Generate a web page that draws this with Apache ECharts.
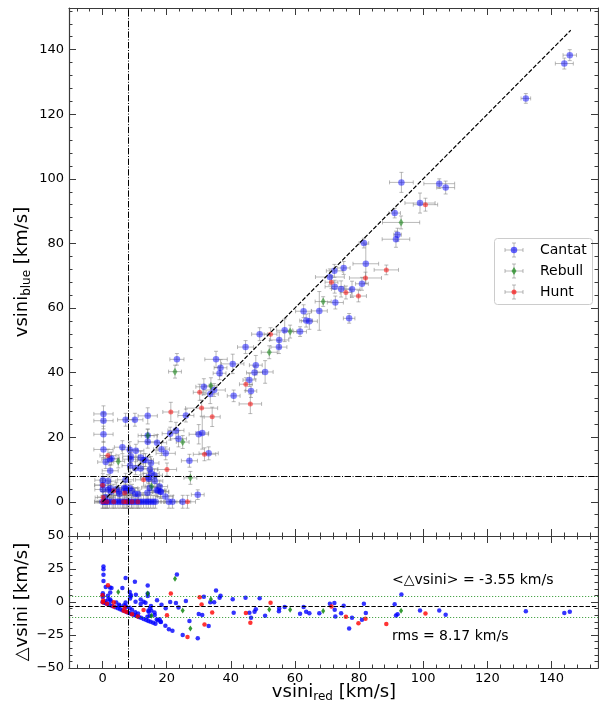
<!DOCTYPE html>
<html>
<head>
<meta charset="utf-8">
<script src="https://cdn.jsdelivr.net/npm/echarts@6.0.0/dist/echarts.min.js"></script>
<style>
html,body{margin:0;padding:0;background:#fff;}
#chart{width:599px;height:708px;}
</style>
</head>
<body>
<div id="chart"></div>
<script>
// ---- data rows: [vsini_red, vsini_blue, err_red, err_blue] (km/s) ----
const cantat = [
  [145.7,138.3,2.1,1.7],[144.0,135.7,2.8,1.7],[132.0,124.9,1.5,1.5],
  [93.2,98.9,3.7,3.1],[105.0,98.5,4.8,1.5],[107.0,97.3,2.8,2.0],[99.0,92.5,4.7,3.1],
  [91.1,89.4,1.8,1.5],[92.0,82.7,1.2,2.0],[91.5,81.3,4.3,2.5],[81.5,80.1,1.5,1.5],
  [82.1,73.7,4.0,6.0],[75.2,72.4,2.0,2.0],[72.3,71.5,2.5,2.0],[70.9,69.6,4.5,2.5],
  [72.4,66.6,3.0,2.0],[74.4,65.9,3.0,2.5],[77.8,65.8,2.5,2.5],[80.9,67.5,2.0,2.0],
  [72.6,61.7,2.5,2.0],[62.7,59.0,2.5,2.0],[67.6,59.1,2.5,6.0],[76.9,56.8,1.8,1.5],
  [63.5,56.1,2.0,2.0],[64.5,55.9,2.5,2.5],[61.6,52.7,2.0,1.5],[49.0,51.9,2.5,2.0],
  [56.8,53.1,2.5,3.5],[55.1,50.1,3.0,2.5],[55.0,47.9,2.5,2.0],[44.6,47.9,2.5,2.0],
  [35.4,44.1,3.5,2.5],[23.2,44.1,2.2,1.8],[40.6,42.7,3.5,3.0],[36.8,41.5,2.0,2.5],
  [36.5,39.8,2.0,2.0],[47.8,42.3,2.0,3.0],[47.4,40.0,2.5,2.0],[50.7,40.2,2.5,3.5],
  [45.8,37.7,2.0,2.0],[46.3,34.3,1.8,2.0],[31.6,35.6,2.5,2.5],[34.8,34.6,3.5,2.0],
  [33.6,33.4,2.5,3.0],[40.9,32.8,2.0,1.8],[14.1,26.6,3.0,2.5],[26.0,26.7,2.5,2.0],
  [21.1,21.1,2.5,2.0],[22.9,22.1,2.5,2.5],[23.7,19.5,2.5,2.5],[30.0,20.9,3.0,3.0],
  [31.1,21.3,2.0,5.0],[14.1,20.5,3.0,2.0],[14.1,18.6,3.0,2.0],[17.0,18.3,3.0,2.5],
  [18.4,16.3,2.5,2.0],[19.7,15.0,3.0,2.0],[33.1,15.0,3.0,2.0],[27.1,12.7,2.5,2.0],
  [11.9,13.7,3.0,2.0],[14.8,10.1,2.5,2.0],[15.2,8.8,2.5,2.0],[14.3,7.6,2.5,2.0],
  [0.3,27.2,3.0,2.5],[0.3,25.1,3.0,2.5],[0.3,20.9,3.0,2.5],[0.3,16.2,3.0,2.5],
  [7.2,25.4,2.5,2.0],[10.1,25.4,2.5,2.0],[6.2,16.9,2.5,2.0],[2.3,13.2,2.5,2.0],
  [2.8,13.4,2.5,2.0],[1.0,12.3,2.5,2.0],[2.4,9.6,2.5,2.0],[8.5,16.1,2.5,2.5],
  [8.8,14.1,2.5,2.0],[8.8,13.2,2.5,2.0],[8.6,11.2,2.5,2.0],[10.4,15.8,2.5,2.0],
  [13.4,12.9,2.5,2.0],[12.8,12.9,2.5,2.0],[10.3,10.4,2.5,2.0],[11.9,10.3,2.5,2.0],
  [15.1,12.0,2.5,2.0],[16.2,8.2,2.5,2.0],[14.4,7.1,2.5,2.0],[16.3,6.4,2.5,2.0],
  [17.8,4.7,2.5,2.0],[17.3,3.5,2.5,2.0],[18.2,3.1,2.5,2.0],[19.6,1.6,2.5,2.0],
  [29.7,2.2,2.0,1.5],[7.2,6.8,2.5,2.0],[0.1,6.7,2.5,2.0],[0.1,5.2,2.5,2.0],
  [0.1,3.8,2.5,2.0],[1.7,6.4,2.5,2.0],[1.8,3.8,2.5,2.0],[2.4,4.2,2.5,2.0],
  [2.6,3.1,2.5,2.0],[4.3,3.9,2.5,2.0],[5.2,3.1,2.5,2.0],[5.3,2.4,2.5,2.0],
  [6.7,4.3,2.5,2.0],[7.2,4.2,2.5,2.0],[7.4,3.4,2.5,2.0],[8.5,4.2,2.5,2.0],
  [9.2,3.4,2.5,2.0],[10.2,2.4,2.5,2.0],[11.1,2.3,2.5,2.0],[0.9,1.5,2.5,2.0],
  [14.0,2.8,2.5,2.0],[14.7,4.3,2.5,2.0],[16.9,3.6,2.5,2.0],[18.1,3.1,2.5,2.0],
  [0.0,0,2.5,2.0],[0.5,0,2.5,2.0],[1.0,0,2.5,2.0],[1.5,0,2.5,2.0],[2.2,0,2.5,2.0],
  [3.0,0,2.5,2.0],[4.0,0,2.5,2.0],[4.8,0,2.5,2.0],[5.5,0,2.5,2.0],[6.2,0,2.5,2.0],
  [7.0,0,2.5,2.0],[7.8,0,2.5,2.0],[8.3,0,2.5,2.0],[9.0,0,2.5,2.0],[9.8,0,2.5,2.0],
  [10.5,0,2.5,2.0],[11.3,0,2.5,2.0],[12.0,0,2.5,2.0],[12.8,0,2.5,2.0],[13.6,0,2.5,2.0],
  [14.3,0,2.5,2.0],[15.0,0,2.5,2.0],[15.8,0,2.5,2.0],[16.5,0,2.5,2.0],
  [20.7,0,2.5,2.0],[21.8,0,2.5,2.0],[25.0,0,2.5,2.0]
];
const rebull = [
  [93.1,86.5,5.8,2.0],[68.8,62.0,2.5,1.5],[58.5,52.7,2.0,2.0],[52.0,46.3,2.5,2.0],
  [22.6,40.3,2.0,2.0],[33.8,35.9,2.0,2.5],[25.0,18.5,2.0,2.0],[14.1,20.5,2.0,2.0],
  [4.9,12.5,2.0,2.0],[27.4,7.4,2.0,2.0],[15.3,4.8,2.0,2.0]
];
const hunt = [
  [100.7,92.0,3.8,2.0],[88.5,71.8,3.8,1.5],[82.0,69.3,5.0,1.8],[71.4,68.0,2.0,2.0],
  [75.9,64.8,1.8,2.0],[79.8,63.7,2.5,1.8],[52.4,51.9,2.0,2.0],[44.7,36.4,2.0,2.0],
  [30.3,33.9,2.0,2.5],[46.1,30.3,3.5,3.0],[30.9,29.0,5.0,2.5],[34.2,26.3,2.5,3.0],
  [21.3,27.8,2.5,3.0],[31.8,14.7,3.5,2.0],[20.1,10.0,3.0,2.0],[12.8,6.8,2.5,2.0],
  [1.7,14.3,2.5,2.0],[0.0,5.1,2.5,2.0],[0.2,1.3,2.5,2.0],[3.5,3.4,2.5,2.0],[6.9,2.7,2.5,2.0],
  [0.1,0,2.5,2.0],[1.4,0,2.5,2.0],[3.5,0,2.5,2.0],[6.6,0,2.5,2.0],[7.5,0,2.5,2.0],
  [9.2,0,2.5,2.0],[11.0,0,2.5,2.0],[26.5,0,2.5,2.0]
];

const xMajorTicks = [0,20,40,60,80,100,120,140];
const yTopMajorTicks = [0,20,40,60,80,100,120,140];
const yBottomMajorTicks = [-50,-25,0,25,50];

const vsiniLimit = 8;
const meanDiff = -3.55;
const rmsDiff = 8.17;
const oneToOneEnd = 146;

// ---- styling ----
const FONT = "'DejaVu Sans', sans-serif";
const SPINE = '#3a3a3a';
const ERR = 'rgba(128,128,128,0.55)';
const BLUE = 'rgba(0,0,255,0.6)';
const GREEN = 'rgba(0,128,0,0.65)';
const RED = 'rgba(255,0,0,0.65)';

function range(a, b, s) { const r = []; for (let v = a; v <= b + 1e-9; v += s) r.push(+v.toFixed(6)); return r; }
const xMinor = range(-8, 152, 4).filter(v => v % 20 !== 0);
const yTopMinor = range(-8, 152, 4).filter(v => v % 20 !== 0);
const yBotMinor = range(-45, 45, 5).filter(v => v % 25 !== 0);

const fmt = v => (v < 0 ? '\u2212' + Math.abs(v) : String(v));

function mkAxes(kind, grid, min, max, majors, minors, showLabels) {
  const sides = kind === 'x' ? ['bottom', 'top'] : ['left', 'right'];
  const out = [];
  sides.forEach((pos, i) => {
    [majors, minors].forEach((vals, j) => {
      out.push({
        type: 'value', gridIndex: grid, position: pos, min: min, max: max,
        axisLine: { show: j === 0, onZero: false, lineStyle: { color: SPINE, width: 1.2 } },
        axisTick: { show: true, inside: true, length: j === 0 ? 7 : 3.5, customValues: vals,
                    lineStyle: { color: SPINE, width: 1 } },
        axisLabel: { show: showLabels && i === 0 && j === 0, customValues: vals, formatter: fmt,
                     fontFamily: FONT, fontSize: 13, color: '#000', margin: kind === 'x' ? 4 : 5 },
        splitLine: { show: false },
        silent: true
      });
    });
  });
  return out;
}

const X_MIN = -10.45, X_MAX = 154.5;
const xAxes = [].concat(
  mkAxes('x', 0, X_MIN, X_MAX, xMajorTicks, xMinor, false),
  mkAxes('x', 1, X_MIN, X_MAX, xMajorTicks, xMinor, true)
);
const yAxes = [].concat(
  mkAxes('y', 0, -10.6, 152.9, yTopMajorTicks, yTopMinor, true),
  mkAxes('y', 1, -50, 50, yBottomMajorTicks, yBotMinor, true)
);

function errorBars(params, api) {
  const x = api.value(0), y = api.value(1), xe = api.value(2), ye = api.value(3);
  const l = api.coord([x - xe, y]), r = api.coord([x + xe, y]);
  const t = api.coord([x, y + ye]), b = api.coord([x, y - ye]);
  const c = 2;
  const st = { stroke: ERR, lineWidth: 1, fill: null };
  const ln = (x1, y1, x2, y2) => ({ type: 'line', shape: { x1, y1, x2, y2 }, style: st, silent: true });
  return { type: 'group', children: [
    ln(l[0], l[1], r[0], r[1]), ln(l[0], l[1] - c, l[0], l[1] + c), ln(r[0], r[1] - c, r[0], r[1] + c),
    ln(t[0], t[1], b[0], b[1]), ln(t[0] - c, t[1], t[0] + c, t[1]), ln(b[0] - c, b[1], b[0] + c, b[1])
  ]};
}

const sets = [
  { name: 'Cantat', data: cantat, color: BLUE, solid: '#0000ff', symbol: 'circle', size: 6.5, rsize: 4.5 },
  { name: 'Rebull', data: rebull, color: GREEN, solid: '#008000', symbol: 'diamond', size: [5, 8], rsize: [4, 6] },
  { name: 'Hunt', data: hunt, color: RED, solid: '#ff0000', symbol: 'circle', size: 5, rsize: 4.5 }
];

const series = [];
sets.forEach(s => {
  series.push({ type: 'custom', name: s.name + ' err', xAxisIndex: 0, yAxisIndex: 0,
    data: s.data, renderItem: errorBars, encode: { x: 0, y: 1 }, silent: true, z: 2 });
  series.push({ type: 'scatter', name: s.name, xAxisIndex: 0, yAxisIndex: 0,
    data: s.data.map(r => [r[0], r[1]]), symbol: s.symbol, symbolSize: s.size,
    itemStyle: { color: s.color, borderWidth: 0 }, silent: true, z: 2 });
});
sets.forEach(s => {
  series.push({ type: 'scatter', name: s.name + ' diff', xAxisIndex: 4, yAxisIndex: 4,
    data: s.data.map(r => [r[0], +(r[1] - r[0]).toFixed(2)]), symbol: s.symbol, symbolSize: s.rsize,
    itemStyle: { color: s.solid, borderWidth: 0 }, silent: true, z: 2 });
});

const DASHDOT = [6.4, 1.6, 1, 1.6];
series.push({
  type: 'line', name: '1:1', xAxisIndex: 0, yAxisIndex: 0,
  data: [[0, 0], [oneToOneEnd, oneToOneEnd]], showSymbol: false, silent: true, z: 3,
  lineStyle: { color: '#000', width: 1.2, type: [4.4, 1.9] },
  markLine: { silent: true, symbol: ['none', 'none'], label: { show: false }, animation: false,
    lineStyle: { color: '#000', width: 1, type: DASHDOT },
    emphasis: { disabled: true },
    data: [{ xAxis: vsiniLimit }, { yAxis: vsiniLimit }] }
});
series.push({
  type: 'line', name: 'refs', xAxisIndex: 4, yAxisIndex: 4, data: [], silent: true, z: 3,
  markLine: { silent: true, symbol: ['none', 'none'], label: { show: false }, animation: false,
    emphasis: { disabled: true },
    data: [
      { xAxis: vsiniLimit, lineStyle: { color: '#000', width: 1, type: DASHDOT } },
      { yAxis: meanDiff, lineStyle: { color: '#000', width: 1.2, type: [4.4, 1.9] } },
      { yAxis: meanDiff + rmsDiff, lineStyle: { color: 'rgba(0,128,0,0.7)', width: 1.2, type: [1.2, 1.8] } },
      { yAxis: meanDiff - rmsDiff, lineStyle: { color: 'rgba(0,128,0,0.7)', width: 1.2, type: [1.2, 1.8] } }
    ] }
});

const RICH = {
  a: { fontSize: 18, fontFamily: FONT, fill: '#000', lineHeight: 22 },
  s: { fontSize: 12, fontFamily: FONT, fill: '#000', lineHeight: 10, verticalAlign: 'bottom' }
};

// legend (error-bar style icons)
const legendChildren = [
  { type: 'rect', shape: { x: 494.5, y: 238.5, width: 98, height: 66, r: 3 },
    style: { fill: 'rgba(255,255,255,0.85)', stroke: '#cccccc', lineWidth: 1 } }
];
sets.forEach((s, i) => {
  const cy = 250 + 21 * i, cx = 514;
  const st = { stroke: ERR, lineWidth: 1 };
  const ln = (x1, y1, x2, y2) => ({ type: 'line', shape: { x1, y1, x2, y2 }, style: st });
  legendChildren.push(ln(cx - 9, cy, cx + 9, cy), ln(cx - 9, cy - 2, cx - 9, cy + 2), ln(cx + 9, cy - 2, cx + 9, cy + 2));
  legendChildren.push(ln(cx, cy - 7, cx, cy + 7), ln(cx - 2, cy - 7, cx + 2, cy - 7), ln(cx - 2, cy + 7, cx + 2, cy + 7));
  if (s.symbol === 'diamond') {
    legendChildren.push({ type: 'polygon', shape: { points: [[cx, cy - 4], [cx + 2.5, cy], [cx, cy + 4], [cx - 2.5, cy]] },
      style: { fill: s.color } });
  } else {
    legendChildren.push({ type: 'circle', shape: { cx, cy, r: (typeof s.size === 'number' ? s.size : 6) / 2 },
      style: { fill: s.color } });
  }
  legendChildren.push({ type: 'text', x: 540, y: cy,
    style: { text: s.name, font: '14px ' + FONT, fill: '#000', verticalAlign: 'middle', align: 'left' } });
});

const graphics = [
  { type: 'text', x: 22, y: 272, rotation: Math.PI / 2,
    style: { text: '{a|vsini}{s|blue}{a| [km/s]}', rich: RICH, align: 'center', verticalAlign: 'middle' } },
  { type: 'text', x: 22, y: 602, rotation: Math.PI / 2,
    style: { text: '\u25B3vsini [km/s]', font: '18px ' + FONT, fill: '#000', align: 'center', verticalAlign: 'middle' } },
  { type: 'text', x: 334, y: 692,
    style: { text: '{a|vsini}{s|red}{a| [km/s]}', rich: RICH, align: 'center', verticalAlign: 'middle' } },
  { type: 'text', x: 392, y: 580,
    style: { text: '<\u25B3vsini> = ' + meanDiff.toFixed(2) + ' km/s', font: '14px ' + FONT, fill: '#000', verticalAlign: 'middle' } },
  { type: 'text', x: 392, y: 636,
    style: { text: 'rms = ' + rmsDiff.toFixed(2) + ' km/s', font: '14px ' + FONT, fill: '#000', verticalAlign: 'middle' } },
  { type: 'group', z: 100, children: legendChildren }
];

const chart = echarts.init(document.getElementById('chart'), null, { renderer: 'canvas' });
chart.setOption({
  animation: false,
  backgroundColor: '#ffffff',
  grid: [
    { left: 69, top: 8, width: 529, height: 528, outerBoundsMode: 'none' },
    { left: 69, top: 536, width: 529, height: 132, outerBoundsMode: 'none' }
  ],
  xAxis: xAxes,
  yAxis: yAxes,
  series: series,
  graphic: graphics
});
</script>
</body>
</html>
